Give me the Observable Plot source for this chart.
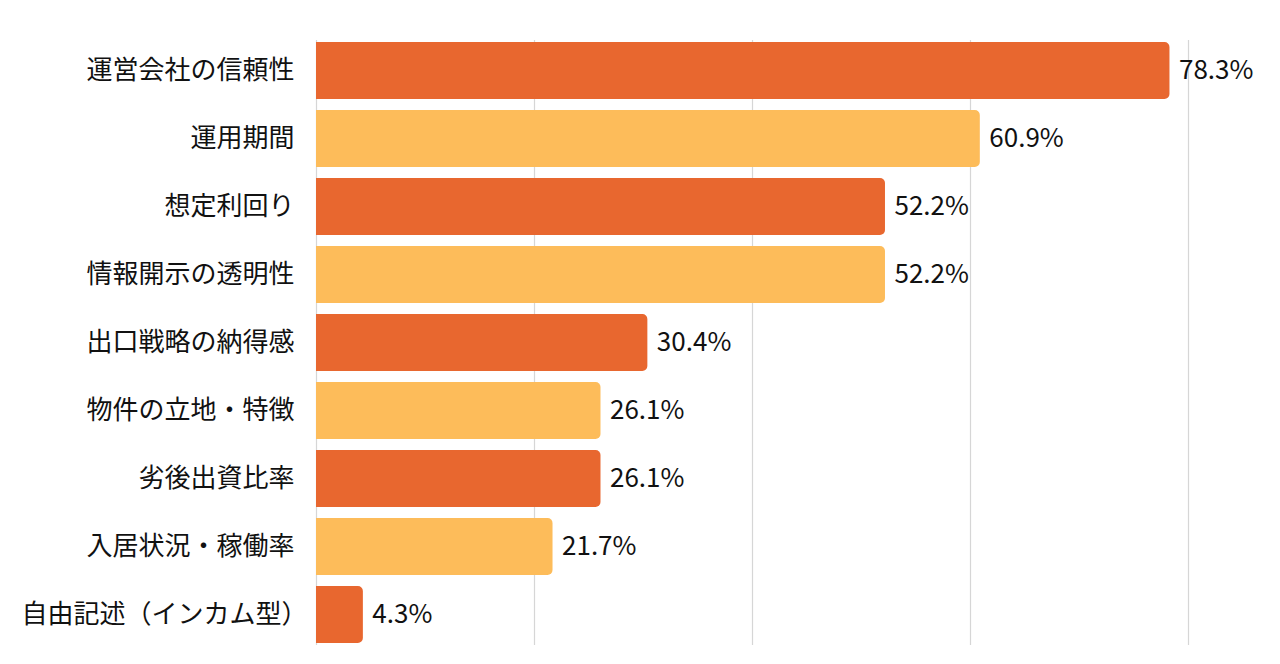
<!DOCTYPE html>
<html>
<head>
<meta charset="utf-8">
<script src="https://cdn.jsdelivr.net/npm/d3@7"></script>
<script src="https://cdn.jsdelivr.net/npm/@observablehq/plot@0.6"></script>
<style>
  html, body { margin: 0; padding: 0; background: #fff; }
</style>
</head>
<body>
<div id="chart"></div>
<script>
const categories = ["運営会社の信頼性", "運用期間", "想定利回り", "情報開示の透明性", "出口戦略の納得感", "物件の立地・特徴", "劣後出資比率", "入居状況・稼働率", "自由記述（インカム型）"];
const values = [78.3, 60.9, 52.2, 52.2, 30.4, 26.1, 26.1, 21.7, 4.3];
const gridTicks = [0, 20, 40, 60, 80];
const palette = ["#E8672F", "#FDBC5A"];

const data = categories.map((c, i) => ({category: c, value: values[i], idx: i}));

const chart = Plot.plot({
  width: 1280,
  height: 664,
  marginLeft: 316,
  marginRight: 92,
  marginTop: 29,
  marginBottom: 8,
  style: {fontFamily: "'Noto Sans CJK JP', 'Noto Sans', sans-serif", fontSize: "26px", color: "#111", background: "#fff"},
  x: {domain: [0, 80], axis: null},
  y: {domain: categories, padding: 0.16, label: null, axis: null},
  marks: [
    Plot.ruleX(gridTicks, {stroke: "#d6d6d6", strokeWidth: 1.2, insetTop: 11, insetBottom: 11}),
    Plot.barX(data, {x: "value", y: "category", fill: d => palette[d.idx % 2], rx2: 5}),
    Plot.text(data, {x: "value", y: "category", text: d => d.value.toFixed(1) + "%", textAnchor: "start", dx: 9, fontSize: 26, fill: "#111"}),
    Plot.axisY({tickSize: 0, tickPadding: 22, label: null, fontSize: 26})
  ]
});
// line-end trimming of a trailing full-width bracket (as in the reference rendering)
d3.select(chart).selectAll("text").each(function() {
  const t = this.textContent;
  if (t.endsWith("）") && this.childElementCount === 0) {
    this.textContent = t.slice(0, -1);
    d3.select(this).append("tspan").style("font-feature-settings", "'halt' 1").text("）");
  }
});
document.getElementById("chart").appendChild(chart);
</script>
</body>
</html>
